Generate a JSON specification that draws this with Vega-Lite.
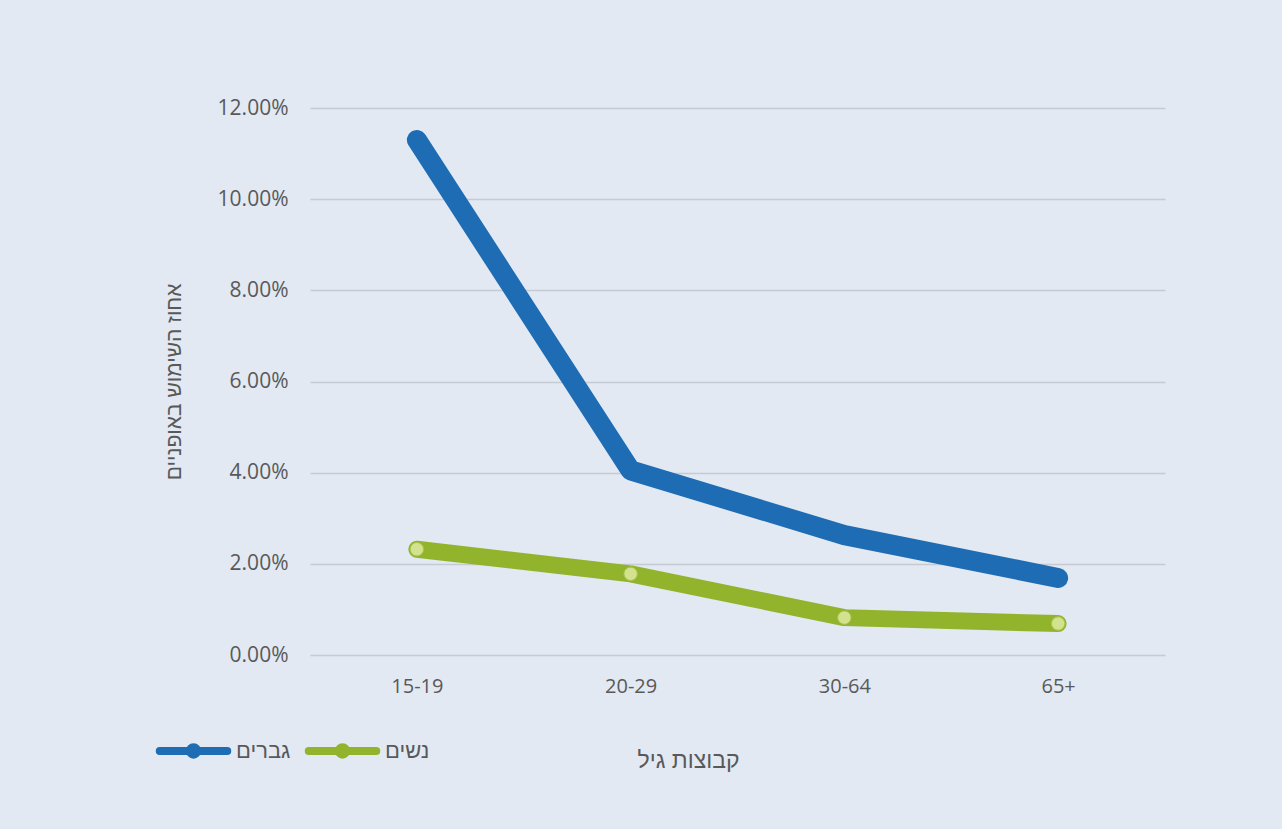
{
  "$schema": "https://vega.github.io/schema/vega-lite/v6.json",
  "width": 855,
  "height": 547,
  "autosize": {"type": "none"},
  "padding": {"left": 310, "top": 108, "right": 117, "bottom": 174},
  "background": "#e2e9f3",
  "config": {
    "view": {"stroke": null},
    "axis": {
      "labelColor": "#595959",
      "titleColor": "#595959",
      "titleFontWeight": "normal",
      "ticks": false,
      "domain": false
    }
  },
  "data": {
    "values": [
      {"group": "15-19", "sex": "גברים", "share": 0.1130},
      {"group": "20-29", "sex": "גברים", "share": 0.0405},
      {"group": "30-64", "sex": "גברים", "share": 0.0263},
      {"group": "65+", "sex": "גברים", "share": 0.0169},
      {"group": "15-19", "sex": "נשים", "share": 0.0232},
      {"group": "20-29", "sex": "נשים", "share": 0.0178},
      {"group": "30-64", "sex": "נשים", "share": 0.0082},
      {"group": "65+", "sex": "נשים", "share": 0.0069}
    ]
  },
  "encoding": {
    "x": {
      "field": "group",
      "type": "ordinal",
      "sort": ["15-19", "20-29", "30-64", "65+"],
      "scale": {"type": "point", "padding": 0.5},
      "axis": {
        "labelAngle": 0,
        "labelFont": "Open Sans",
        "labelFontSize": 20,
        "labelPadding": 21,
        "grid": false,
        "title": "קבוצות גיל",
        "titleFont": "Liberation Sans",
        "titleFontSize": 23,
        "titleX": 378,
        "titleY": 105,
        "titleBaseline": "middle"
      }
    },
    "y": {
      "field": "share",
      "type": "quantitative",
      "scale": {"domain": [0, 0.12], "nice": false},
      "axis": {
        "values": [0, 0.02, 0.04, 0.06, 0.08, 0.1, 0.12],
        "format": ".2%",
        "labelFont": "Open Sans",
        "labelFontSize": 21,
        "labelPadding": 22,
        "grid": true,
        "gridColor": "#c5cad3",
        "gridWidth": 1.5,
        "title": "אחוז השימוש באופניים",
        "titleFont": "Liberation Sans",
        "titleFontSize": 21,
        "titleX": -136,
        "titleY": 273.5,
        "titleBaseline": "middle"
      }
    },
    "color": {
      "field": "sex",
      "type": "nominal",
      "scale": {"domain": ["גברים", "נשים"], "range": ["#1d6cb4", "#92b42c"]},
      "legend": {
        "title": null,
        "orient": "none",
        "legendX": -158,
        "legendY": 601,
        "direction": "horizontal",
        "columns": 2,
        "padding": 0,
        "columnPadding": 1,
        "labelFont": "Liberation Sans",
        "labelFontSize": 22,
        "labelColor": "#595959",
        "labelOffset": 1,
        "symbolType": "M-0.9,0H0.9M-0.1,0A0.1,0.1 0 1,1 0.1,0A0.1,0.1 0 1,1 -0.1,0",
        "symbolSize": 5625,
        "symbolStrokeWidth": 8,
        "symbolFillColor": "transparent",
        "encode": {"symbols": {"update": {"strokeCap": {"value": "round"}}}}
      }
    }
  },
  "layer": [
    {
      "transform": [{"filter": "datum.sex === 'נשים'"}],
      "mark": {"type": "line", "strokeWidth": 17, "strokeCap": "round", "strokeJoin": "round"}
    },
    {
      "transform": [{"filter": "datum.sex === 'גברים'"}],
      "mark": {"type": "line", "strokeWidth": 20, "strokeCap": "round", "strokeJoin": "round"}
    },
    {
      "transform": [{"filter": "datum.sex === 'נשים'"}],
      "mark": {"type": "point", "shape": "circle", "filled": true, "size": 180, "fill": "#d3e28e", "stroke": "#a8c34a", "strokeWidth": 1, "opacity": 1},
      "encoding": {"color": {"value": "#d3e28e"}}
    }
  ]
}
